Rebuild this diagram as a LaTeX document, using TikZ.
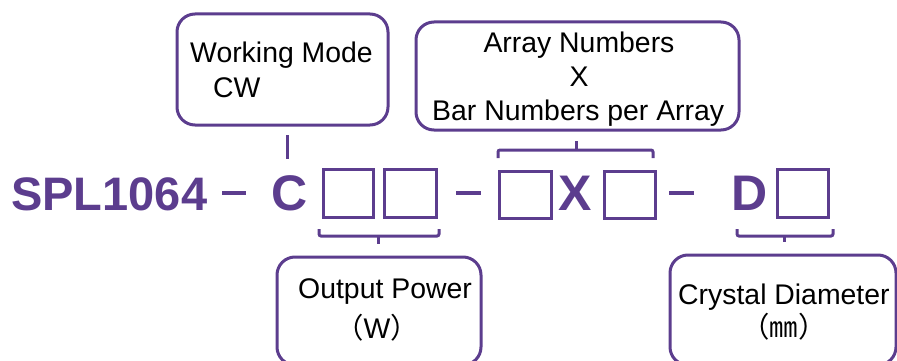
\documentclass[tikz,border=0pt]{standalone}
\usepackage{fontspec}
\setmainfont{Liberation Sans}
\newfontfamily\cjk{Noto Sans CJK SC}
\definecolor{pp}{RGB}{92,61,142}
\begin{document}
\begin{tikzpicture}[x=1pt,y=-1pt,
  pbox/.style={draw=pp,line width=3pt,rounded corners=18pt,inner sep=0pt},
  sq/.style={draw=pp,line width=3pt,inner sep=0pt},
  lbl/.style={font=\fontsize{28.4}{30}\selectfont,text=black,inner sep=0pt},
  big/.style={font=\fontsize{50}{52}\selectfont\bfseries,text=pp,inner sep=0pt,anchor=base west},
  brk/.style={draw=pp,line width=3pt,rounded corners=2pt},
  dsh/.style={draw=pp,line width=3.5pt}]
\useasboundingbox (0,0) rectangle (897,361);
% boxes
\node[pbox,minimum width=211pt,minimum height=111pt] (wm) at (282.5,69.5) {};
\node[lbl,anchor=base west] (wmt1) at (190,63) {Working Mode};
\node[lbl,anchor=base west] (wmt2) at (213,98) {CW};
\node[pbox,minimum width=323pt,minimum height=108pt] (ar) at (577.5,76) {};
\node[lbl,anchor=base] (art1) at (579,53) {Array Numbers};
\node[lbl,anchor=base] (art2) at (579,87) {X};
\node[lbl,anchor=base west] (art3) at (432,120) {Bar Numbers per Array};
\node[pbox,minimum width=204pt,minimum height=108pt] (op) at (379,311) {};
\node[lbl,anchor=base west] (opt1) at (298,298) {Output Power};
\node[lbl,anchor=base] (opt2) at (377,338) {{\cjk （}W{\cjk ）}};
\node[pbox,minimum width=226pt,minimum height=110pt] (cd) at (783,310) {};
\node[lbl,anchor=base west] (cdt1) at (678,304) {Crystal Diameter};
\node[lbl,anchor=base] (cdt2) at (784,337) {\cjk （㎜）};
% main row
\node[big,font=\fontsize{47}{50}\selectfont\bfseries] (spl) at (11,210) {SPL1064};
\node[big] (c) at (271,210) {C};
\node[big] (x) at (558,210) {X};
\node[big] (d) at (731,210) {D};
\coordinate (d1a) at (222,193); \coordinate (d1b) at (246,193);
\coordinate (d2a) at (456,193); \coordinate (d2b) at (481,193);
\coordinate (d3a) at (669,193); \coordinate (d3b) at (694,193);
\draw[dsh] (d1a) -- (d1b);
\draw[dsh] (d2a) -- (d2b);
\draw[dsh] (d3a) -- (d3b);
\node[sq,minimum width=50pt,minimum height=48pt] (s1) at (348,193) {};
\node[sq,minimum width=52pt,minimum height=48pt] (s2) at (410,193) {};
\node[sq,minimum width=52pt,minimum height=47pt] (s3) at (525,194.5) {};
\node[sq,minimum width=51pt,minimum height=47pt] (s4) at (629.5,194.5) {};
\node[sq,minimum width=51pt,minimum height=48pt] (s5) at (802.5,193) {};
% connectors
\coordinate (wmL) at (287,135); \coordinate (wmC) at (287,159);
\draw[brk] (wmL) -- (wmC);
\coordinate (b1a) at (319,229); \coordinate (b1b) at (439,229);
\coordinate (b1m) at (378,236); \coordinate (b1t) at (378,244);
\draw[brk] (b1a) |- (b1m) -| (b1b);
\draw[brk] (b1m) -- (b1t);
\coordinate (b2a) at (498,158); \coordinate (b2b) at (653,158);
\coordinate (b2m) at (576,150); \coordinate (b2t) at (576,141);
\draw[brk] (b2a) |- (b2m) -| (b2b);
\draw[brk] (b2m) -- (b2t);
\coordinate (b3a) at (737,229); \coordinate (b3b) at (833,229);
\coordinate (b3m) at (784,236); \coordinate (b3t) at (784,242);
\draw[brk] (b3a) |- (b3m) -| (b3b);
\draw[brk] (b3m) -- (b3t);
\end{tikzpicture}
\end{document}
